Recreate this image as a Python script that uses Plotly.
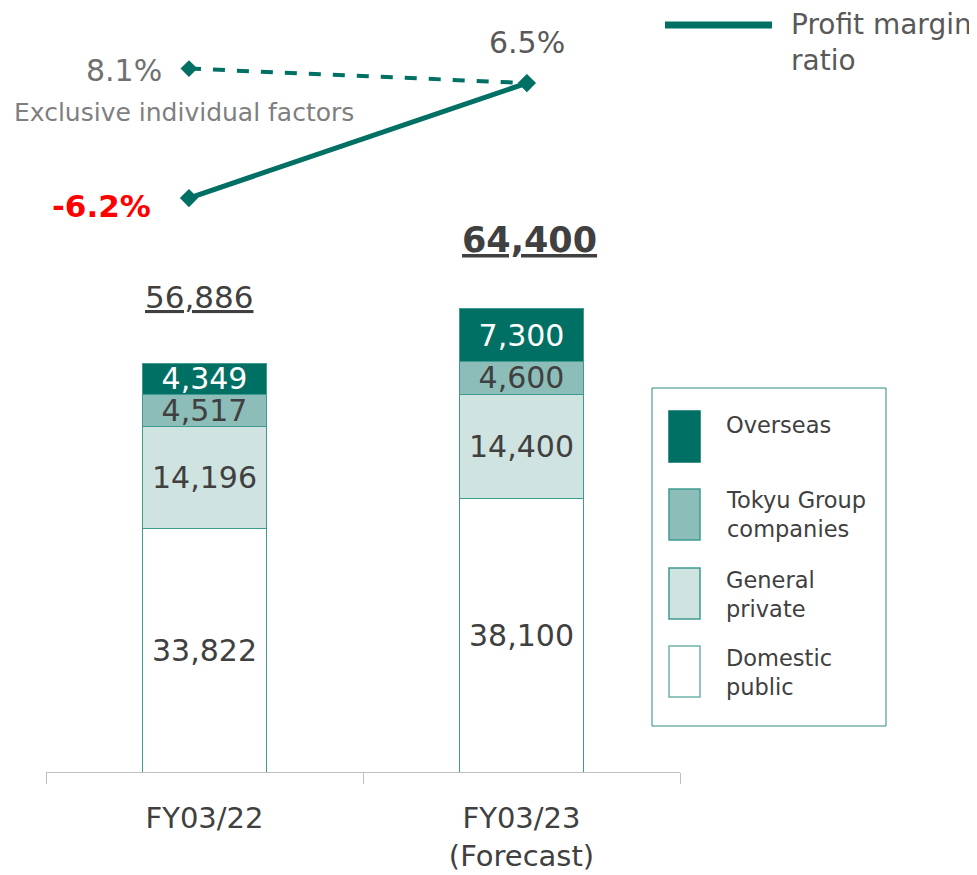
import plotly.graph_objects as go

# ---- data ----
categories = ["FY03/22", "FY03/23<br>(Forecast)"]
domestic_public = [33822, 38100]
general_private = [14196, 14400]
tokyu_group = [4517, 4600]
overseas = [4349, 7300]
totals = [56886, 64400]
total_labels = ["<u>56,886</u>", "<b><u>64,400</u></b>"]

margin_positions = [0, 1]
profit_margin = [-6.2, 6.5]
margin_excl = [8.1, 6.5]
margin_labels = ["<b>-6.2%</b>", "6.5%"]
excl_label = "8.1%"

series_names = ["Domestic<br>public", "General<br>private", "Tokyu Group<br>companies", "Overseas"]

# ---- style ----
FONT = "DejaVu Sans"
TEAL = "#007065"
EDGE = "#3f9a90"
DARK = "#404040"
fills = ["#ffffff", "#cfe3e1", "#8dbdb8", TEAL]
text_cols = [DARK, DARK, DARK, "#ffffff"]

OFF = 8  # page body margin
W, H = 977 - OFF, 875 - OFF
# plot area in screen px
SL, SR, ST, SB = 46, 680, 8, 772
L, R, T, B = SL - OFF, SR - OFF, ST - OFF, SB - OFF

def px_x(s):
    return (s - SL) / (SR - SL)

def px_y(s):
    return (SB - s) / (SB - ST)

fig = go.Figure()
values = [domestic_public, general_private, tokyu_group, overseas]
for name, vals, fc, tc in zip(series_names, values, fills, text_cols):
    fig.add_trace(go.Bar(
        x=categories, y=vals, name=name, width=0.39,
        marker=dict(color=fc, line=dict(color=EDGE, width=1)),
        text=[f"{v:,}" for v in vals], textposition="inside",
        insidetextanchor="middle", constraintext="none",
        textfont=dict(family=FONT, size=30, color=tc),
        showlegend=False, hoverinfo="skip",
    ))

# profit margin lines
fig.add_trace(go.Scatter(
    x=margin_positions, y=margin_excl, xaxis="x2", yaxis="y2", mode="lines+markers",
    line=dict(color=TEAL, width=4, dash="dash"),
    marker=dict(symbol="diamond", size=13, color=TEAL),
    showlegend=False, hoverinfo="skip",
))
fig.add_trace(go.Scatter(
    x=margin_positions, y=profit_margin, xaxis="x2", yaxis="y2", mode="lines+markers",
    line=dict(color=TEAL, width=5),
    marker=dict(symbol="diamond", size=14, color=TEAL),
    showlegend=False, hoverinfo="skip",
))

ann = []
# totals above bars
for c, t, lab, ys, xs in zip(categories, totals, total_labels, [66, 69], [-6, 8]):
    ann.append(dict(x=c, y=t, xref="x", yref="y", text=lab, showarrow=False,
                    yshift=ys, xshift=xs, yanchor="middle",
                    font=dict(family=FONT, size=31 if "<b>" not in lab else 35, color=DARK)))
# margin labels
ann.append(dict(x=margin_positions[0], y=profit_margin[0], xref="x2", yref="y2",
                text=margin_labels[0], showarrow=False, xanchor="right", yanchor="middle",
                xshift=-36, yshift=-8, font=dict(family=FONT, size=31, color="#ff0000")))
ann.append(dict(x=margin_positions[1], y=profit_margin[1], xref="x2", yref="y2",
                text=margin_labels[1], showarrow=False, xanchor="center", yanchor="middle",
                yshift=41, font=dict(family=FONT, size=30, color="#595959")))
ann.append(dict(x=margin_positions[0], y=margin_excl[0], xref="x2", yref="y2",
                text=excl_label, showarrow=False, xanchor="right", yanchor="middle",
                xshift=-25, yshift=-2, font=dict(family=FONT, size=30, color="#707070")))
ann.append(dict(x=margin_positions[0], y=margin_excl[0], xref="x2", yref="y2",
                text="Exclusive individual factors", showarrow=False, xanchor="center",
                yanchor="middle", xshift=-5, yshift=-44,
                font=dict(family=FONT, size=25, color="#7f7f7f")))

shapes = []
# line legend
shapes.append(dict(type="line", xref="paper", yref="paper", x0=px_x(665), x1=px_x(772),
                   y0=px_y(25), y1=px_y(25), line=dict(color=TEAL, width=7)))
ann.append(dict(xref="paper", yref="paper", x=px_x(789), y=px_y(43), xanchor="left",
                yanchor="middle", align="left", showarrow=False,
                text="Profit margin<br>ratio", font=dict(family=FONT, size=28, color="#595959")))

# box legend
shapes.append(dict(type="rect", xref="paper", yref="paper", x0=px_x(652), x1=px_x(886),
                   y0=px_y(726), y1=px_y(388), line=dict(color="#2e8b80", width=1),
                   fillcolor="white", layer="below"))
sw_tops = [646, 568, 489, 411]
lab_centers = [672, 594, 514, 425]
sw_lines = ["#6fb3ab", EDGE, EDGE, TEAL]
for name, fc, lc, top, lc_y in zip(series_names, fills, sw_lines, sw_tops, lab_centers):
    shapes.append(dict(type="rect", xref="paper", yref="paper", x0=px_x(669), x1=px_x(700),
                       y0=px_y(top + 51), y1=px_y(top), fillcolor=fc,
                       line=dict(color=lc, width=1.5)))
    ann.append(dict(xref="paper", yref="paper", x=px_x(724), y=px_y(lc_y), xanchor="left",
                    yanchor="middle", align="left", showarrow=False, text=name,
                    font=dict(family=FONT, size=22.5, color=DARK)))

fig.update_layout(
    width=W, height=H, barmode="stack",
    margin=dict(l=L, r=W - R, t=T, b=H - B),
    paper_bgcolor="white", plot_bgcolor="white",
    font=dict(family=FONT, color=DARK),
    xaxis=dict(type="category", range=[-0.5, 1.5], tickson="boundaries",
               ticks="outside", ticklen=11, tickcolor="#bfbfbf", showline=True,
               linecolor="#bfbfbf", linewidth=1, showgrid=False, ticklabelstandoff=20,
               tickfont=dict(family=FONT, size=29, color=DARK)),
    yaxis=dict(range=[0, 106258], visible=False, showgrid=False),
    xaxis2=dict(overlaying="x", range=[-0.423, 1.453], visible=False),
    yaxis2=dict(overlaying="y", range=[-69.58, 14.79], visible=False),
    annotations=ann, shapes=shapes, showlegend=False,
)

fig.write_html("out.html")
